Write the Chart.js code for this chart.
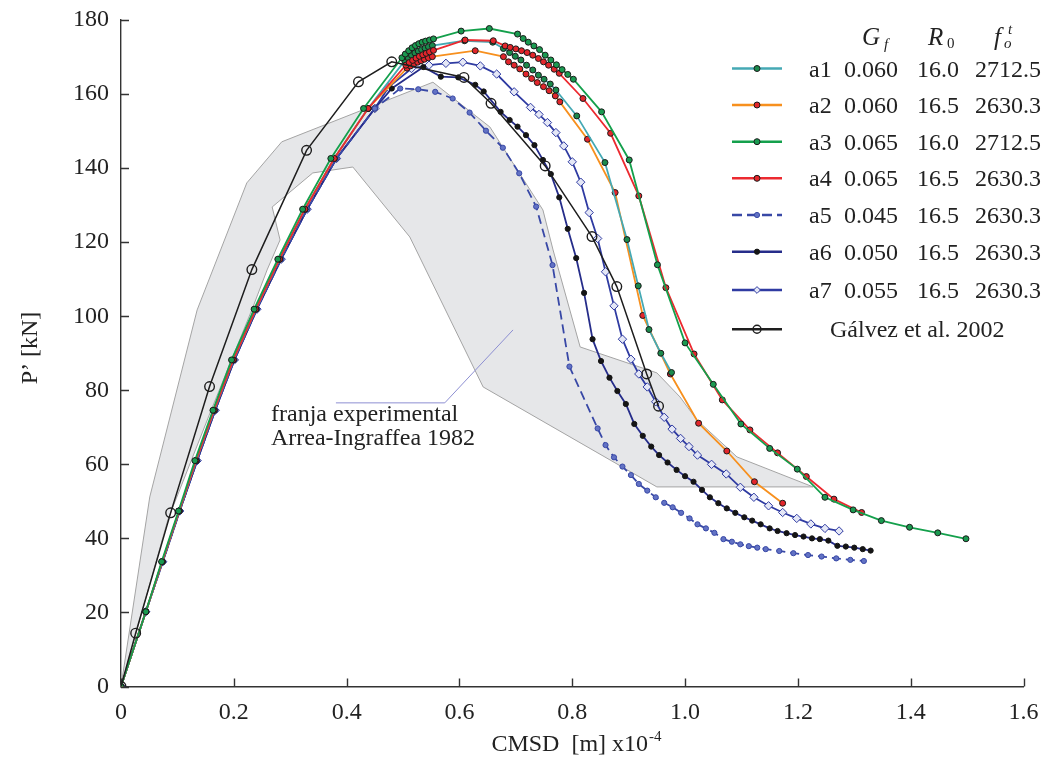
<!DOCTYPE html>
<html>
<head>
<meta charset="utf-8">
<script src="https://cdn.jsdelivr.net/npm/chart.js@4.4.1/dist/chart.umd.min.js"></script>
<style>
  html, body { margin: 0; padding: 0; background: #fff; }
  #wrap { width: 1045px; height: 757px; }
</style>
</head>
<body>
<div id="wrap"><canvas id="chart" width="1045" height="757"></canvas></div>
<script>
const FONT = '"Liberation Serif", "Times New Roman", serif';

const xTicks = [0, 0.2, 0.4, 0.6, 0.8, 1.0, 1.2, 1.4, 1.6];
const xTickLabels = ['0', '0.2', '0.4', '0.6', '0.8', '1.0', '1.2', '1.4', '1.6'];
const yTicks = [0, 20, 40, 60, 80, 100, 120, 140, 160, 180];

// rising branches (they almost coincide)
const riseMid = [[0,0],[0.044,20.2],[0.073,33.7],[0.103,47.4],[0.133,61.0],[0.165,74.6],[0.199,88.2],[0.239,101.9],[0.281,115.4],[0.326,128.9],[0.378,142.6],[0.438,156.1]];
const riseGreen = [[0,0],[0.044,20.2],[0.072,33.7],[0.102,47.4],[0.131,61.0],[0.163,74.6],[0.196,88.2],[0.236,101.9],[0.278,115.4],[0.322,128.9],[0.372,142.6],[0.430,156.1]];
const riseBlue = [[0,0],[0.044,20.2],[0.074,33.7],[0.104,47.4],[0.135,61.0],[0.167,74.6],[0.201,88.2],[0.241,101.9],[0.284,115.4],[0.330,128.9],[0.382,142.6],[0.450,156.1]];

const a1 = riseMid.concat([[0.503,169.0],[0.509,169.8],[0.515,170.5],[0.521,171.1],[0.527,171.6],[0.533,172.0],[0.539,172.4],[0.545,172.8],[0.552,173.1],
  [0.609,174.4],[0.659,174.0],[0.678,172.3],[0.689,171.2],[0.699,170.2],[0.709,169.2],[0.719,167.8],[0.730,166.5],[0.740,165.1],[0.750,164.0],[0.761,162.7],[0.771,161.1],
  [0.808,154.1],[0.858,141.5],[0.897,120.7],[0.917,108.2],[0.936,96.4],[0.957,90.0],[0.976,84.8]]);
const a2 = riseMid.concat([[0.507,167.0],[0.513,167.6],[0.519,168.1],[0.526,168.6],[0.532,169.0],[0.538,169.4],[0.545,169.8],[0.552,170.1],
  [0.628,171.7],[0.678,170.1],[0.687,168.7],[0.697,167.8],[0.707,166.8],[0.718,165.4],[0.728,164.2],[0.738,163.1],[0.749,162.0],[0.759,160.9],[0.770,159.5],[0.778,157.9],
  [0.827,147.8],[0.876,133.4],[0.925,100.2],[0.974,84.4],[1.024,71.1],[1.074,63.6],[1.123,55.3],[1.173,49.5]]);
const a3 = riseGreen.concat([[0.498,169.8],[0.504,170.8],[0.510,171.7],[0.516,172.5],[0.522,173.1],[0.528,173.6],[0.534,174.0],[0.540,174.3],[0.547,174.6],[0.554,174.9],
  [0.603,177.0],[0.653,177.7],[0.703,176.2],[0.713,175.0],[0.722,174.0],[0.732,173.0],[0.742,172.0],[0.752,170.5],[0.762,169.2],[0.772,167.9],[0.782,166.6],[0.792,165.3],[0.802,164.0],
  [0.852,155.2],[0.901,142.2],[0.951,113.9],[1.000,92.8],[1.050,81.6],[1.099,70.9],[1.150,64.3],[1.199,58.7],[1.248,51.1],[1.298,47.7],[1.348,44.8],[1.398,43.0],[1.448,41.5],[1.498,39.9]]);
const a4 = riseMid.concat([[0.505,167.8],[0.511,168.5],[0.517,169.1],[0.523,169.7],[0.529,170.2],[0.535,170.6],[0.541,171.0],[0.547,171.4],[0.554,171.8],
  [0.610,174.6],[0.660,174.4],[0.681,173.0],[0.690,172.6],[0.700,172.2],[0.710,171.7],[0.720,171.2],[0.730,170.5],[0.740,169.6],[0.749,168.7],[0.758,167.8],[0.768,166.7],[0.777,165.6],
  [0.819,158.8],[0.868,149.4],[0.918,132.5],[0.966,107.7],[1.016,89.8],[1.066,77.4],[1.115,69.3],[1.164,63.1],[1.215,56.7],[1.264,50.6],[1.313,47.0]]);
const a5 = riseBlue.concat([[0.495,161.5],[0.527,161.3],[0.557,160.6],[0.588,158.8],[0.618,155.0],[0.647,150.1],[0.677,145.5],[0.706,138.6],[0.736,129.6],[0.765,113.8],
  [0.795,86.4],[0.845,69.7],[0.859,65.2],[0.874,61.9],[0.889,59.4],[0.904,57.1],[0.918,54.7],[0.933,52.9],[0.948,51.1],[0.963,49.6],[0.978,48.4],[0.993,46.9],[1.008,45.4],
  [1.022,43.8],[1.037,42.7],[1.052,41.5],[1.068,39.8],[1.083,39.1],[1.098,38.4],[1.113,37.9],[1.128,37.5],[1.143,37.1],[1.167,36.6],[1.192,36.0],[1.218,35.5],[1.242,35.1],
  [1.268,34.6],[1.293,34.2],[1.317,33.9]]);
const a6 = riseBlue.concat([[0.480,161.5],[0.536,167.3],[0.567,164.7],[0.598,164.5],[0.628,162.5],[0.643,160.7],[0.673,155.2],[0.689,153.0],[0.703,151.2],[0.718,148.9],
  [0.733,146.2],[0.748,142.2],[0.762,138.4],[0.777,132.1],[0.792,123.6],[0.807,115.7],[0.821,106.3],[0.836,93.8],[0.851,87.9],[0.866,83.4],[0.880,79.8],[0.895,76.3],
  [0.910,70.9],[0.925,67.7],[0.940,64.8],[0.954,62.5],[0.969,60.5],[0.985,58.5],[1.000,56.8],[1.015,55.3],[1.030,53.1],[1.044,51.1],[1.059,49.5],[1.074,48.1],[1.089,46.9],
  [1.105,45.7],[1.119,44.8],[1.134,43.8],[1.150,42.7],[1.164,42.0],[1.180,41.4],[1.195,40.9],[1.210,40.5],[1.225,40.0],[1.239,39.8],[1.254,39.4],[1.270,38.0],[1.285,37.8],
  [1.300,37.5],[1.315,37.1],[1.329,36.7]]);
const a7 = riseBlue.concat([[0.474,161.8],[0.515,166.9],[0.546,167.8],[0.576,168.3],[0.606,168.6],[0.637,167.6],[0.666,165.4],[0.697,160.6],[0.726,156.4],[0.741,154.5],
  [0.756,152.3],[0.771,149.6],[0.785,146.0],[0.800,141.7],[0.815,136.2],[0.830,128.0],[0.845,121.0],[0.859,112.0],[0.874,102.8],[0.889,93.8],[0.904,88.4],[0.918,84.4],
  [0.933,80.9],[0.948,76.9],[0.963,72.7],[0.977,69.5],[0.992,67.0],[1.007,64.8],[1.022,62.5],[1.047,60.0],[1.073,57.4],[1.098,53.8],[1.122,51.1],[1.148,48.8],[1.173,47.0],
  [1.198,45.4],[1.223,43.9],[1.248,42.7],[1.273,42.0]]);
const galvez = [[0,0],[0.026,14.4],[0.088,46.9],[0.157,81.0],[0.232,112.6],[0.329,144.8],[0.421,163.3],[0.480,168.7],[0.608,164.5],[0.656,157.5],[0.752,140.6],
  [0.835,121.5],[0.879,108.0],[0.932,84.4],[0.953,75.7]];

// experimental band (Arrea-Ingraffea 1982), outline in data units
const band = [[0,0],[0.051,51.2],[0.135,101.7],[0.223,136.0],[0.285,147.1],[0.553,163.2],[0.654,151.1],[0.748,128.7],[0.766,117.9],[0.814,91.7],
  [0.950,84.7],[0.991,78.2],[1.021,72.0],[1.092,62.0],[1.227,53.9],[0.950,53.9],[0.642,80.9],[0.512,121.4],[0.411,140.3],[0.340,138.7],
  [0.268,129.5],[0.282,120.6],[0.259,112.5],[0.234,102.5],[0.160,74.7],[0.083,45.0]];

const legendNames = ['a1', 'a2', 'a3', 'a4', 'a5', 'a6', 'a7'];
const gfValues = ['0.060', '0.060', '0.065', '0.065', '0.045', '0.050', '0.055'];
const r0Values = ['16.0', '16.5', '16.0', '16.5', '16.5', '16.5', '16.5'];
const ftValues = ['2712.5', '2630.3', '2712.5', '2630.3', '2630.3', '2630.3', '2630.3'];
const galvezLabel = 'Gálvez et al. 2002';
const bandNote = ['franja experimental', 'Arrea-Ingraffea 1982'];
const noteLeader = [[0.381, 76.6], [0.574, 76.6], [0.695, 96.3]];

const toXY = arr => arr.map(([x, y]) => ({ x, y }));

const styles = [
  { line: '#45a9b4', fill: '#1b8a4c', edge: '#1a1a1a', r: 3, style: 'circle' },
  { line: '#f7901e', fill: '#e2262b', edge: '#1a1a1a', r: 3, style: 'circle' },
  { line: '#14a04c', fill: '#1a9a50', edge: '#1a1a1a', r: 3, style: 'circle' },
  { line: '#ec2a30', fill: '#e2262b', edge: '#1a1a1a', r: 3, style: 'circle' },
  { line: '#3848a6', fill: '#6272c4', edge: '#3848a6', r: 2.6, style: 'circle', dash: [9, 5] },
  { line: '#262d8a', fill: '#151515', edge: '#151515', r: 2.6, style: 'circle' },
  { line: '#2f3ba2', fill: '#e4e7f6', edge: '#2f3ba2', r: 4.2, style: 'rectRot' },
];
const seriesData = [a1, a2, a3, a4, a5, a6, a7];

const datasets = seriesData.map((d, i) => ({
  label: legendNames[i],
  data: toXY(d),
  showLine: true,
  borderColor: styles[i].line,
  borderWidth: 1.8,
  borderDash: styles[i].dash || [],
  pointStyle: styles[i].style,
  pointRadius: styles[i].r,
  pointBackgroundColor: styles[i].fill,
  pointBorderColor: styles[i].edge,
  pointBorderWidth: 1,
  order: [4, 5, 2, 3, 6, 7, 8][i],
}));
datasets.push({
  label: galvezLabel,
  data: toXY(galvez),
  showLine: true,
  borderColor: '#1e1e1e',
  borderWidth: 1.5,
  pointStyle: 'circle',
  pointRadius: 4.8,
  pointBackgroundColor: 'rgba(255,255,255,0)',
  pointBorderColor: '#1e1e1e',
  pointBorderWidth: 1.4,
  order: 1,
});

const bandPlugin = {
  id: 'band',
  beforeDatasetsDraw(chart) {
    const { ctx, scales: { x, y } } = chart;
    ctx.save();
    ctx.beginPath();
    band.forEach(([vx, vy], i) => {
      const px = x.getPixelForValue(vx), py = y.getPixelForValue(vy);
      if (i) ctx.lineTo(px, py); else ctx.moveTo(px, py);
    });
    ctx.closePath();
    ctx.fillStyle = '#e6e7e9';
    ctx.fill();
    ctx.strokeStyle = '#a4a4a4';
    ctx.lineWidth = 1;
    ctx.stroke();

    // leader line + note
    ctx.beginPath();
    noteLeader.forEach(([vx, vy], i) => {
      const px = x.getPixelForValue(vx), py = y.getPixelForValue(vy);
      if (i) ctx.lineTo(px, py); else ctx.moveTo(px, py);
    });
    ctx.strokeStyle = '#8d8fd2';
    ctx.stroke();
    ctx.fillStyle = '#222';
    ctx.font = '24px ' + FONT;
    ctx.textBaseline = 'alphabetic';
    ctx.textAlign = 'left';
    ctx.fillText(bandNote[0], 271, 421);
    ctx.fillText(bandNote[1], 271, 445);

    // inward ticks
    ctx.strokeStyle = '#333';
    ctx.lineWidth = 1.4;
    ctx.beginPath();
    xTicks.forEach(v => {
      const px = Math.round(x.getPixelForValue(v)) + 0.5;
      ctx.moveTo(px, y.bottom); ctx.lineTo(px, y.bottom - 8);
    });
    yTicks.forEach(v => {
      const py = Math.round(y.getPixelForValue(v)) + 0.5;
      ctx.moveTo(x.left, py); ctx.lineTo(x.left + 8, py);
    });
    ctx.stroke();
    ctx.restore();
  },
  afterDraw(chart) {
    const { ctx } = chart;
    ctx.save();
    ctx.fillStyle = '#222';
    ctx.textAlign = 'left';
    ctx.textBaseline = 'alphabetic';

    // axis titles
    ctx.font = '24px ' + FONT;
    const xt = 'CMSD  [m] x10';
    const w1 = ctx.measureText(xt).width;
    ctx.font = '15px ' + FONT;
    const w2 = ctx.measureText('-4').width;
    const x0 = 576 - (w1 + w2) / 2;
    ctx.font = '24px ' + FONT;
    ctx.fillText(xt, x0, 751);
    ctx.font = '15px ' + FONT;
    ctx.fillText('-4', x0 + w1 + 1, 741);

    ctx.save();
    ctx.translate(37, 348);
    ctx.rotate(-Math.PI / 2);
    ctx.font = '24px ' + FONT;
    ctx.textAlign = 'center';
    ctx.fillText('P’ [kN]', 0, 0);
    ctx.restore();

    // legend header
    ctx.font = 'italic 25px ' + FONT;
    ctx.fillText('G', 862, 45);
    ctx.fillText('R', 928, 45);
    ctx.fillText('f', 994, 45);
    ctx.font = 'italic 15px ' + FONT;
    ctx.fillText('f', 884, 49);
    ctx.fillText('o', 1004, 48);
    ctx.fillText('t', 1008, 34);
    ctx.font = '15px ' + FONT;
    ctx.fillText('0', 947, 48);

    // legend rows
    const rowY = [68.5, 105, 141.7, 178.3, 215, 251.7, 290, 329.3];
    chart.data.datasets.forEach((ds, i) => {
      const yy = rowY[i];
      ctx.save();
      ctx.strokeStyle = ds.borderColor;
      ctx.lineWidth = 2.6;
      ctx.setLineDash(ds.borderDash && ds.borderDash.length ? [10, 5] : []);
      ctx.beginPath();
      ctx.moveTo(732, yy); ctx.lineTo(782, yy);
      ctx.stroke();
      ctx.setLineDash([]);
      ctx.fillStyle = ds.pointBackgroundColor;
      ctx.strokeStyle = ds.pointBorderColor;
      ctx.lineWidth = ds.pointBorderWidth;
      Chart.helpers.drawPoint(ctx, { pointStyle: ds.pointStyle, radius: ds.pointStyle === 'circle' && i === 7 ? 4 : Math.min(ds.pointRadius, 3.4), rotation: 0, borderWidth: ds.pointBorderWidth }, 757, yy);
      ctx.restore();

      ctx.font = '24px ' + FONT;
      ctx.fillStyle = '#222';
      if (i < 7) {
        ctx.fillText(legendNames[i], 809, yy + 8);
        ctx.fillText(gfValues[i], 844, yy + 8);
        ctx.fillText(r0Values[i], 917, yy + 8);
        ctx.fillText(ftValues[i], 975, yy + 8);
      } else {
        ctx.fillText(galvezLabel, 830, yy + 8);
      }
    });
    ctx.restore();
  }
};

new Chart(document.getElementById('chart'), {
  type: 'scatter',
  data: { datasets },
  options: {
    responsive: false,
    animation: false,
    layout: { padding: { top: 20, right: 21.5, left: 0, bottom: 0 } },
    plugins: { legend: { display: false }, tooltip: { enabled: false } },
    elements: { line: { tension: 0 } },
    scales: {
      x: {
        type: 'linear', min: 0, max: 1.6,
        afterFit: s => { s.height = 70.5; s.paddingLeft = 0; s.paddingRight = 0; },
        afterBuildTicks: s => { s.ticks = xTicks.map(v => ({ value: v })); },
        grid: { display: false, drawTicks: false },
        border: { display: true, color: '#333', width: 1.4 },
        ticks: {
          padding: 12, color: '#222', font: { family: FONT, size: 24 },
          maxRotation: 0, autoSkip: false,
          callback: (v) => xTickLabels[xTicks.indexOf(Math.round(v * 10) / 10)],
        },
      },
      y: {
        type: 'linear', min: 0, max: 180,
        afterFit: s => { s.width = 121; s.paddingTop = 0; s.paddingBottom = 0; },
        afterBuildTicks: s => { s.ticks = yTicks.map(v => ({ value: v })); },
        grid: { display: false, drawTicks: false },
        border: { display: true, color: '#333', width: 1.4 },
        ticks: { padding: 12, color: '#222', font: { family: FONT, size: 24 }, autoSkip: false },
      },
    },
  },
  plugins: [bandPlugin],
});
</script>
</body>
</html>
